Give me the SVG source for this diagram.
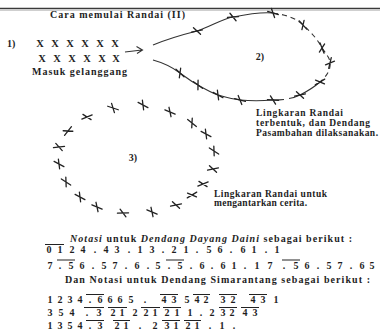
<svg xmlns="http://www.w3.org/2000/svg" width="380" height="334" viewBox="0 0 380 334">
<defs>
<style>
text{font-family:"Liberation Serif","Times New Roman",serif;fill:#1e1e1e;font-weight:bold}
.t{font-size:10px}
.lab{font-size:9.5px}
.n{font-size:10px;text-anchor:middle}
.xs{font-size:10.5px;text-anchor:middle}
.it{font-style:italic}
.cr{fill:none;stroke:#222;stroke-width:1.3;stroke-linecap:round}
.curve{fill:none;stroke:#333;stroke-width:1.1}
.dash{fill:none;stroke:#333;stroke-width:1.1;stroke-dasharray:5 4}
.ol{stroke:#222;stroke-width:1}
</style>
<path id="cr" class="cr" d="M-5.5,-0.8 L5.5,0.8 M-2.2,-4.3 L2.2,4.3"/>
</defs>
<rect width="380" height="334" fill="#fff"/>
<line x1="0" y1="8.5" x2="380" y2="8.5" stroke="#3a3a3a" stroke-width="1.6"/>
<line x1="0" y1="10.3" x2="380" y2="10.3" stroke="#cfcfcf" stroke-width="1.2"/>
<text id="title" class="t" x="50" y="18" textLength="135" lengthAdjust="spacing">Cara memulai Randai (II)</text>

<g id="step1">
<text class="t" x="7" y="47">1)</text>
<text class="xs" y="47" x="40 47.5 55 62.5 70 77.5 85 92.5 100 107.5 115">X X X X X X</text>
<text class="xs" y="62" x="42 49.5 57 64.5 72 79.5 87 94.5 102 109 116">X X X X X X</text>
<text class="t" x="32" y="75" textLength="95" lengthAdjust="spacing">Masuk gelanggang</text>
</g>

<g id="connectors">
<path class="curve" d="M125,52 L142,50 M136.5,46.5 L142.5,50 L137,53.5"/>
</g>

<g id="step2">
<path class="curve" d="M153,45 C170,38 185,34 197,31 C212,26 222,19 233,17 C248,14 262,12 273,13"/>
<path class="dash" d="M273,13 C288,15 297,19 303,25 C312,33 318,40 322,48 C326,54 330,58 330,63 C331,70 326,77 320,82"/>
<path class="curve" d="M320,82 C313,88 306,92 300,95 C296,97 292,98 289,98.5 M284,99.5 C280,100 276,100 273,100 C262,101 250,101 240,100 C231,99 225,97 218,95 C210,92 205,89 198,85 C190,81 186,77 180,73 C172,67 164,63 153,60"/>
<use href="#cr" transform="translate(197,31) rotate(-20)"/>
<use href="#cr" transform="translate(233,17) rotate(-12)"/>
<use href="#cr" transform="translate(273,13) rotate(8)"/>
<use href="#cr" transform="translate(303,25) rotate(40)"/>
<use href="#cr" transform="translate(322,48) rotate(60)"/>
<use href="#cr" transform="translate(330,63) rotate(95)"/>
<use href="#cr" transform="translate(320,82) rotate(-40)"/>
<use href="#cr" transform="translate(300,95) rotate(-20)"/>
<use href="#cr" transform="translate(273,100) rotate(-5)"/>
<use href="#cr" transform="translate(240,100) rotate(5)"/>
<use href="#cr" transform="translate(218,95) rotate(20)"/>
<use href="#cr" transform="translate(198,85) rotate(28)"/>
<use href="#cr" transform="translate(180,73) rotate(35)"/>
<text class="t" x="260" y="60" text-anchor="middle">2)</text>
<text class="lab" x="256" y="116" textLength="87" lengthAdjust="spacing">Lingkaran Randai</text>
<text class="lab" x="256" y="126" textLength="114" lengthAdjust="spacing">terbentuk, dan Dendang</text>
<text class="lab" x="256" y="135.5" textLength="122" lengthAdjust="spacing">Pasambahan dilaksanakan.</text>
</g>

<g id="step3">
<use href="#cr" transform="translate(113,108) rotate(10)"/>
<use href="#cr" transform="translate(143,105) rotate(20)"/>
<use href="#cr" transform="translate(170,112) rotate(15)"/>
<use href="#cr" transform="translate(192,123) rotate(30)"/>
<use href="#cr" transform="translate(206,134) rotate(20)"/>
<use href="#cr" transform="translate(214,151) rotate(25)"/>
<use href="#cr" transform="translate(213,169) rotate(-20)"/>
<use href="#cr" transform="translate(203,184) rotate(-30)"/>
<use href="#cr" transform="translate(192,195) rotate(-40)"/>
<use href="#cr" transform="translate(176,205) rotate(-20)"/>
<use href="#cr" transform="translate(152,212) rotate(15)"/>
<use href="#cr" transform="translate(123,213) rotate(-10)"/>
<use href="#cr" transform="translate(97,207) rotate(15)"/>
<use href="#cr" transform="translate(80,197) rotate(20)"/>
<use href="#cr" transform="translate(66,182) rotate(25)"/>
<use href="#cr" transform="translate(59,164) rotate(20)"/>
<use href="#cr" transform="translate(59,147) rotate(-15)"/>
<use href="#cr" transform="translate(68,131) rotate(-60)"/>
<use href="#cr" transform="translate(87,117) rotate(-30)"/>
<text class="t" x="133" y="161" text-anchor="middle">3)</text>
<text class="lab" x="214" y="197" textLength="113" lengthAdjust="spacing">Lingkaran Randai untuk</text>
<text class="lab" x="214" y="206" textLength="93" lengthAdjust="spacing">mengantarkan cerita.</text>
</g>

<g id="notation1">
<text class="t" x="70" y="242" textLength="282" lengthAdjust="spacing"><tspan class="it">Notasi</tspan> untuk <tspan class="it">Dendang Dayang Daini</tspan> sebagai berikut :</text>
<text class="n" y="253" x="49 54.5 60 66 72 77.5 83 89 95 100.5 106 111.5 117 123 129 134.5 140 146 152 157.5 163 168.5 174 180 186 191.5 197 203 209 214.5 220 225.5 231 237 243 248.5 254 260 266 271.5 277">0 1 2 4 . 4 3 . 1 3 . 2 1 . 5 6 . 6 1 . 1</text>
<line class="ol" x1="45" y1="244.5" x2="64" y2="244.5"/>
<text class="n" y="269" x="50 55 60 65.5 71 76.5 82 87.5 93 98.5 104 109.5 115 120.5 126 131.5 137 142.5 148 153 158 163.5 169 174.5 180 185.5 191 196.5 202 207 212 217.5 223 228.5 234 239.5 245 251 257 263.5 270 277 284 290 296 301.5 307 312.5 318 323.5 329 334.5 340 345.5 351 356.5 362 367 372">7 . 5 6 . 5 7 . 6 . 5 . 5 . 6 . 6 1 . 1 7 . 5 6 . 5 7 . 6 5</text>
<line class="ol" x1="57" y1="260" x2="75" y2="260"/>
<line class="ol" x1="166" y1="260" x2="184" y2="260"/>
<line class="ol" x1="282" y1="260" x2="300" y2="260"/>
</g>

<g id="notation2">
<text class="t" x="65" y="283" textLength="305" lengthAdjust="spacing">Dan Notasi untuk Dendang Simarantang sebagai berikut :</text>
<text class="n" y="303" x="50 55 60 65 70 75 80 85 90 95 100 105 110 115 120 125.5 131 138 145 154.5 164 169 174 180.5 187 192 197 201.5 206 214.5 223 228 233 243 253 258 263 269.5 276">1 2 3 4 . 6 6 6 5 . 4 3 5 4 2 3 2 4 3 1</text>
<line class="ol" x1="86" y1="294.5" x2="104" y2="294.5"/>
<line class="ol" x1="160" y1="294.5" x2="178" y2="294.5"/>
<line class="ol" x1="193" y1="294.5" x2="210" y2="294.5"/>
<line class="ol" x1="219" y1="294.5" x2="237" y2="294.5"/>
<line class="ol" x1="249" y1="294.5" x2="267" y2="294.5"/>
<text class="n" y="316" x="50 55.5 61 66.5 72 79.5 87 93 99 106 113 117.5 122 128.5 135 140.5 146 150.5 155 161 167 172 177 183.5 190 195.5 201 206.5 212 217.5 223 227.5 232 238.5 245 250 255">3 5 4 . 3 2 1 2 2 1 2 1 1 . 2 3 2 4 3</text>
<line class="ol" x1="84" y1="307.5" x2="104" y2="307.5"/>
<line class="ol" x1="108" y1="307.5" x2="127" y2="307.5"/>
<line class="ol" x1="141" y1="307.5" x2="160" y2="307.5"/>
<line class="ol" x1="163" y1="307.5" x2="181" y2="307.5"/>
<line class="ol" x1="219" y1="307.5" x2="237" y2="307.5"/>
<line class="ol" x1="241" y1="307.5" x2="259" y2="307.5"/>
<text class="n" y="329" x="50 55 60 65 70 75 80 85 90 95 100 108.5 117 121.5 126 133 140 147.5 155 161 167 171.5 176 182 188 192.5 197 203.5 210 216 222 228 234">1 3 5 4 . 3 2 1 . 2 3 1 2 1 . 1 .</text>
<line class="ol" x1="86" y1="320.5" x2="104" y2="320.5"/>
<line class="ol" x1="113" y1="320.5" x2="130" y2="320.5"/>
<line class="ol" x1="162" y1="320.5" x2="180" y2="320.5"/>
<line class="ol" x1="184" y1="320.5" x2="201" y2="320.5"/>
</g>
</svg>
